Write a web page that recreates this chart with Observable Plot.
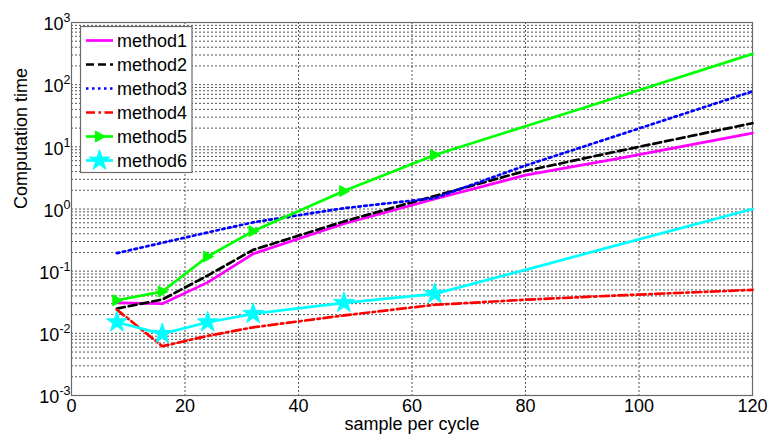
<!DOCTYPE html>
<html><head><meta charset="utf-8">
<script src="https://cdn.jsdelivr.net/npm/d3@7"></script>
<script src="https://cdn.jsdelivr.net/npm/@observablehq/plot@0.6"></script>
<style>
body{margin:0;background:#fff}
#chart{width:768px;height:440px}
</style>
</head><body><div id="chart"></div>
<script>
// x values (sample per cycle)
const samples = [8, 16, 24, 32, 48, 64, 80, 96, 120];
// computation time per method
const method1 = [0.031, 0.030, 0.066, 0.19, 0.58, 1.45, 3.5, 6.4, 16.6];
const method2 = [0.025, 0.035, 0.085, 0.22, 0.63, 1.62, 4.1, 8.4, 24];
const method3 = [0.195, 0.286, 0.42, 0.61, 1.03, 1.5, 5.0, 15, 78];
const method4 = [0.024, 0.0062, 0.0091, 0.0125, 0.0194, 0.0288, 0.0347, 0.0406, 0.050];
const method5 = [0.034, 0.047, 0.172, 0.44, 1.94, 7.4, 21.5, 62, 313];
const method6 = [0.0151, 0.0098, 0.0151, 0.0206, 0.031, 0.0432, 0.105, 0.26, 1.0];
const markerSamples = [8, 16, 24, 32, 48, 64];

const seriesNames = ["method1", "method2", "method3", "method4", "method5", "method6"];
const seriesValues = [method1, method2, method3, method4, method5, method6];
const seriesColors = ["#ff00ff", "#000000", "#0000ff", "#ff0000", "#00ff00", "#00ffff"];
const seriesDash = [null, "8,4", "2.5,3.5", "9,3.5,2.5,3.5", null, null];

const xTicks = [0, 20, 40, 60, 80, 100, 120];
const yExponents = [-3, -2, -1, 0, 1, 2, 3];
const yDecades = yExponents.map(e => Math.pow(10, e));
const yMinor = d3.range(-3, 3).flatMap(e => d3.range(2, 10).map(m => m * Math.pow(10, e)));

const triangleRight = {
  draw(ctx, size) {
    const r = Math.sqrt(size / Math.PI);
    ctx.moveTo(r * 1.05, 0);
    ctx.lineTo(-r * 0.75, -r);
    ctx.lineTo(-r * 0.75, r);
    ctx.closePath();
  }
};

const tables = seriesNames.map((name, k) =>
  samples.map((s, i) => ({x: s, y: seriesValues[k][i], method: name})));

const gridStyle = {stroke: "#555", strokeOpacity: 1, strokeWidth: 1, strokeDasharray: "2,2"};

const marks = [
  Plot.gridY(yMinor, gridStyle),
  Plot.gridY(yDecades, gridStyle),
  Plot.gridX(xTicks, gridStyle),
  Plot.frame({stroke: "#6a6a6a", strokeWidth: 1.2}),
  Plot.axisX({ticks: xTicks, tickSize: 0, tickPadding: 4, label: null, fontSize: 18}),
  Plot.axisY({ticks: yDecades, tickSize: 0, tickPadding: 1, dy: 2, label: null, fontSize: 18,
    tickFormat: d => "10^" + Math.round(Math.log10(d))}),
  Plot.text(["Computation time"], {frameAnchor: "left", text: d => d, rotate: -90, dx: -50, fontSize: 18}),
  Plot.text(["sample per cycle"], {frameAnchor: "bottom", text: d => d, dy: 34, fontSize: 18})
];
tables.forEach((t, k) => {
  marks.push(Plot.line(t, {x: "x", y: "y", stroke: seriesColors[k], strokeWidth: 2.7,
    strokeDasharray: seriesDash[k] || undefined, strokeLinejoin: "round"}));
});
marks.push(Plot.dot(tables[4].filter(d => markerSamples.includes(d.x)),
  {x: "x", y: "y", symbol: triangleRight, r: 5.5, fill: seriesColors[4], stroke: seriesColors[4], strokeWidth: 1}));
marks.push(Plot.dot(tables[5].filter(d => markerSamples.includes(d.x)),
  {x: "x", y: "y", symbol: "star", r: 6.5, fill: seriesColors[5], stroke: seriesColors[5], strokeWidth: 1}));

const svg = Plot.plot({
  width: 768, height: 440,
  marginLeft: 71, marginRight: 16, marginTop: 22, marginBottom: 45,
  style: {fontFamily: "'Liberation Sans', Arial, sans-serif", fontSize: "18px", color: "#000", background: "#fff"},
  x: {domain: [0, 120]},
  y: {type: "log", domain: [1e-3, 1e3]},
  marks
});

// superscript exponents on y tick labels
d3.select(svg).selectAll('[aria-label="y-axis tick label"] text').each(function() {
  const s = this.textContent;
  if (!s.includes("^")) return;
  const [base, exp] = s.split("^");
  const t = d3.select(this);
  t.text("");
  t.append("tspan").text(base);
  t.append("tspan").attr("font-size", 12.5).attr("dy", -8).text(exp);
});

// legend box
const lg = d3.select(svg).append("g").attr("font-size", 18).attr("text-anchor", "start");
lg.append("rect").attr("x", 80.5).attr("y", 26.5).attr("width", 111.5).attr("height", 146)
  .attr("fill", "#fff").attr("stroke", "#6a6a6a").attr("stroke-width", 1.2);
seriesNames.forEach((name, k) => {
  const cy = 40.5 + k * 24;
  lg.append("line").attr("x1", 86).attr("x2", 113).attr("y1", cy).attr("y2", cy)
    .attr("stroke", seriesColors[k]).attr("stroke-width", 2.7)
    .attr("stroke-dasharray", seriesDash[k]);
  if (k === 4 || k === 5) {
    const sym = k === 4 ? triangleRight : d3.symbolStar;
    const r = k === 4 ? 5.5 : 6.5;
    lg.append("path").attr("transform", `translate(99.5,${cy})`)
      .attr("d", d3.symbol(sym, r * r * Math.PI)())
      .attr("fill", seriesColors[k]).attr("stroke", seriesColors[k]);
  }
  lg.append("text").attr("x", 117).attr("y", cy).attr("dy", "0.34em")
    .attr("text-anchor", "start").text(name);
});

document.getElementById("chart").appendChild(svg);
</script>
</body></html>
